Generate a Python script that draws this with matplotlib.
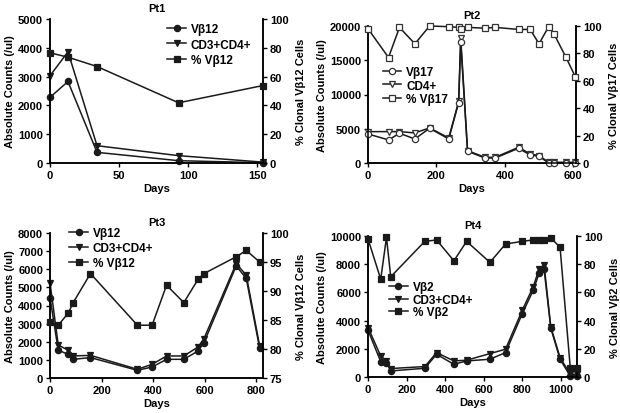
import matplotlib
matplotlib.use("Agg")
import matplotlib.pyplot as plt
from matplotlib.lines import Line2D

plt.rcParams['font.family'] = ['Liberation Sans', 'DejaVu Sans']
plt.rcParams['font.weight'] = 'bold'
plt.rcParams['axes.labelweight'] = 'bold'
plt.rcParams['axes.titleweight'] = 'bold'

# ---------------- Data ----------------
# Pt1
pt1_days = [0, 13, 34, 93, 154]
pt1_vb12 = [2280, 2830, 370, 80, 10]
pt1_cd34 = [3030, 3860, 600, 255, 30]
pt1_pct = [76.5, 73.5, 67, 41.8, 53.8]

# Pt2
pt2_days = [0, 60, 92, 137, 180, 236, 265, 271, 291, 342, 372, 440, 474, 500, 528, 544, 578, 606]
pt2_vb17 = [4240, 3370, 4340, 3510, 5070, 3510, 8800, 17650, 1710, 730, 730, 2150, 1170, 980, 0, 0, 0, 0]
pt2_cd4 = [4580, 4580, 4580, 4390, 5120, 3660, 9000, 18300, 1800, 830, 830, 2290, 1320, 1080, 100, 100, 100, 100]
pt2_pct = [98, 77, 99, 87, 100, 99.5, 99, 97.5, 99, 98.4, 99, 97.5, 97.5, 87, 99.5, 94, 77.5, 63]

# Pt3
pt3_days = [0, 32, 71, 90, 157, 339, 396, 452, 519, 574, 597, 722, 761, 813]
pt3_vb12 = [4435, 1530, 1305, 1030, 1125, 425, 607, 1030, 1030, 1490, 1950, 6180, 5500, 1640]
pt3_cd34 = [5260, 1820, 1530, 1215, 1250, 480, 755, 1215, 1215, 1710, 2170, 6310, 5680, 1765]
pt3_pct = [84.6, 84.1, 86.2, 88, 93, 84.1, 84.1, 91, 88, 92, 93, 95.9, 97, 95]

# Pt4
pt4_days = [0, 66, 96, 118, 295, 356, 446, 512, 633, 714, 801, 858, 888, 914, 949, 997, 1050, 1086]
pt4_vb2 = [3320, 1090, 1020, 430, 620, 1610, 900, 1140, 1260, 1730, 4500, 6160, 7350, 7660, 3460, 1260, 70, 70]
pt4_cd34 = [3510, 1490, 1140, 600, 740, 1730, 1140, 1190, 1660, 1970, 4740, 6400, 7660, 7960, 3550, 1380, 190, 190]
pt4_pct = [97.9, 69.4, 99, 71.1, 96.2, 97.2, 82.4, 96.2, 81.3, 94.3, 96.2, 97.2, 97.2, 97.2, 98.6, 92, 6.6, 6.6]

FS = 8
LC = '#1a1a1a'


def panel(rect, title, days, a, b, pct, labels, xlim, xticks, ylim, yticks,
          rlim, rticks, rlabel, legend_pos, spacing=0.3, open_markers=False):
    ax = fig.add_axes(rect)
    ax2 = ax.twinx()
    mfc = 'white' if open_markers else LC
    mec = '#333333' if open_markers else LC
    ms = 4.5
    kw = dict(color=LC, lw=1.1, clip_on=False, mec=mec, mfc=mfc, ms=ms, mew=0.9)
    ax.plot(days, a, marker='o', zorder=4, **kw)
    ax.plot(days, b, marker='v', zorder=3, **kw)
    ax2.plot(days, pct, marker='s', zorder=3, **dict(kw, ms=ms - 0.5))
    for x in (ax, ax2):
        x.spines['top'].set_visible(False)
        x.set_xlim(*xlim)
        x.tick_params(direction='out', length=3, width=1, labelsize=FS, pad=2)
        for s in ('left', 'right', 'bottom'):
            x.spines[s].set_linewidth(1.1)
    ax.set_ylim(*ylim)
    ax.set_yticks(yticks)
    ax.set_xticks(xticks)
    ax2.set_ylim(*rlim)
    ax2.set_yticks(rticks)
    ax.set_xlabel('Days', fontsize=FS, labelpad=2)
    ax.set_ylabel('Absolute Counts (/ul)', fontsize=FS, labelpad=2)
    ax2.set_ylabel(rlabel, fontsize=FS, labelpad=5, rotation=90)
    ax.set_title(title, fontsize=FS, pad=6)
    for t in ax.get_xticklabels() + ax.get_yticklabels() + ax2.get_yticklabels():
        t.set_fontweight('bold')
    hs = [Line2D([], [], color=LC, lw=1.1, marker=m, mfc=mfc, mec=mec, ms=ms, mew=0.9)
          for m in ('o', 'v', 's')]
    leg = ax2.legend(hs, labels, loc='upper left', bbox_to_anchor=legend_pos,
                     frameon=False, fontsize=FS + 0.5, handlelength=1.6,
                     handletextpad=0.4, labelspacing=spacing, borderaxespad=0,
                     borderpad=0)
    for t in leg.get_texts():
        t.set_fontweight('bold')
    return ax, ax2


fig = plt.figure(figsize=(6.2, 4.14), dpi=100)

panel([50 / 620, 250 / 414, 213 / 620, 144 / 414], 'Pt1', pt1_days, pt1_vb12, pt1_cd34, pt1_pct,
      ['Vβ12', 'CD3+CD4+', '% Vβ12'], (0, 154), [0, 50, 100, 150],
      (0, 5000), range(0, 5001, 1000), (0, 100), range(0, 101, 20),
      '% Clonal Vβ12 Cells', (0.55, 0.97), spacing=0.28)

panel([368 / 620, 250 / 414, 208 / 620, 137 / 414], 'Pt2', pt2_days, pt2_vb17, pt2_cd4, pt2_pct,
      ['Vβ17', 'CD4+', '% Vβ17'], (0, 608), [0, 200, 400, 600],
      (0, 20000), range(0, 20001, 5000), (0, 100), range(0, 101, 20),
      '% Clonal Vβ17 Cells', (0.07, 0.71), spacing=0.15, open_markers=True)

panel([50 / 620, 35 / 414, 213 / 620, 145 / 414], 'Pt3', pt3_days, pt3_vb12, pt3_cd34, pt3_pct,
      ['Vβ12', 'CD3+CD4+', '% Vβ12'], (0, 826), [0, 200, 400, 600, 800],
      (0, 8000), range(0, 8001, 1000), (75, 100), range(75, 101, 5),
      '% Clonal Vβ12 Cells', (0.09, 1.04), spacing=0.25)

panel([368 / 620, 36 / 414, 209 / 620, 141 / 414], 'Pt4', pt4_days, pt4_vb2, pt4_cd34, pt4_pct,
      ['Vβ2', 'CD3+CD4+', '% Vβ2'], (0, 1085), [0, 200, 400, 600, 800, 1000],
      (0, 10000), range(0, 10001, 2000), (0, 100), range(0, 101, 20),
      '% Clonal Vβ2 Cells', (0.1, 0.68), spacing=0.05)

fig.savefig('out.png', dpi=100)
